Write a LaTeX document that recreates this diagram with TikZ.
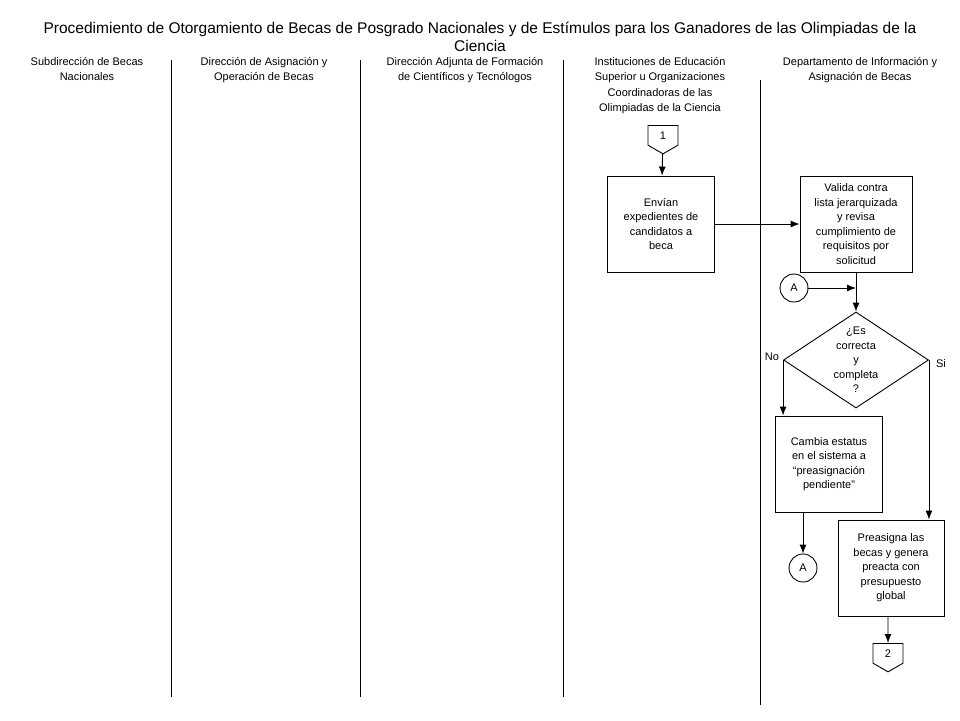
\documentclass[tikz,border=0pt]{standalone}
\usepackage{fontspec}
\setmainfont{Liberation Sans}
\usetikzlibrary{shapes.geometric,shapes.symbols,arrows.meta,positioning}

\tikzset{
  >={Latex[length=9pt,width=7pt]},
  every path/.style={line width=0.9pt},
  txt/.style={align=center,font=\fontsize{11}{14.5}\selectfont,inner sep=0pt},
  lane/.style={align=center,font=\fontsize{11}{15.4}\selectfont,inner sep=0pt,anchor=north},
  proc/.style={draw,txt,minimum height=96pt},
  decision/.style={draw,diamond,minimum width=145pt,minimum height=96pt,inner sep=0pt},
  joint/.style={draw,circle,minimum size=28pt,inner sep=0pt,font=\fontsize{11}{13}\selectfont},
  offpage/.style={draw,signal,signal to=south,signal from=nowhere,signal pointer angle=120,
    minimum width=30pt,minimum height=21.5pt,inner sep=0pt,font=\fontsize{11}{13}\selectfont}
}

\begin{document}
\begin{tikzpicture}[x=1pt,y=-1pt]
\useasboundingbox (0,0) rectangle (960,720);

% titulo
\node[align=center,font=\fontsize{15.5}{17.5}\selectfont] (titulo) at (480,37)
  {Procedimiento de Otorgamiento de Becas de Posgrado Nacionales y de Est\'imulos para los Ganadores de las Olimpiadas de la\\Ciencia};

% carriles
\node[lane] (sub) at (87,57) {Subdirecci\'on de Becas\\Nacionales};
\node[lane] (dir) at (264,57) {Direcci\'on de Asignaci\'on y\\Operaci\'on de Becas};
\node[lane] (adj) at (465,57) {Direcci\'on Adjunta de Formaci\'on\\de Cient\'ificos y Tecn\'ologos};
\node[lane] (ies) at (660,57) {Instituciones de Educaci\'on\\Superior u Organizaciones\\Coordinadoras de las\\Olimpiadas de la Ciencia};
\node[lane] (dep) at (860,57) {Departamento de Informaci\'on y\\Asignaci\'on de Becas};

\draw (171,60) -- (171,697);
\draw (360,60) -- (360,697);
\draw (563,60) -- (563,697);
\draw (760,80) -- (760,705);

% nodos
\node[offpage,anchor=north] (c1) at (663,125) {1};
\node[proc,minimum width=107pt] (envian) at (661,224)
  {Env\'ian\\expedientes de\\candidatos a\\beca};
\node[proc,minimum width=112pt] (valida) at (856,224)
  {Valida contra\\lista jerarquizada\\y revisa\\cumplimiento de\\requisitos por\\solicitud};
\node[joint] (a1) at (794,288) {A};
\node[decision,label={[txt]center:{\textquestiondown Es\\correcta\\y\\completa\\?}}] (dec) at (856,360) {};
\node[txt] (no) at (772,357) {No};
\node[txt] (si) at (941,364) {Si};
\node[proc,minimum width=107pt] (cambia) at (829,464)
  {Cambia estatus\\en el sistema a\\\textquotedblleft preasignaci\'on\\pendiente\textquotedblright};
\node[proc,minimum width=106pt] (prea) at (891,568)
  {Preasigna las\\becas y genera\\preacta con\\presupuesto\\global};
\node[joint] (a2) at (803,568) {A};
\node[offpage,anchor=north] (c2) at (888,643) {2};

% conectores
\draw[->] (c1) -- (envian);
\draw[->] (envian) -- (valida);
\coordinate (j) at (valida.south |- a1);
\draw[->] (a1) -- (j);
\draw[->] (valida) -- (dec);
\draw[->] (dec.west) -- (dec.west |- cambia.north);
\draw[->] (dec.east) -- (dec.east |- prea.north);
\draw[->] (a2 |- cambia.south) -- (a2);
\draw[->] (c2 |- prea.south) -- (c2);
\end{tikzpicture}
\end{document}
